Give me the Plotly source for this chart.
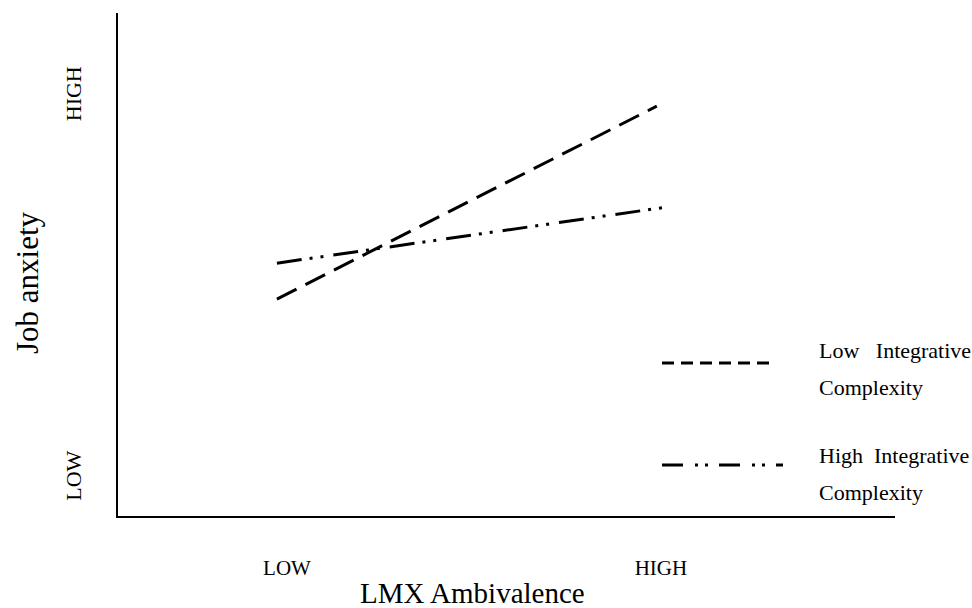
import plotly.graph_objects as go

# Data
x_tick_vals = [1, 2]
x_tick_text = ["LOW", "HIGH"]
y_tick_vals = [1, 2]
y_tick_text = ["LOW", "HIGH"]
x_title = "LMX Ambivalence"
y_title = "Job anxiety"

series_names = ["Low Integrative Complexity", "High Integrative Complexity"]
low_ic_x = [0.973, 1.989]
low_ic_y = [1.471, 1.976]
high_ic_x = [0.973, 2.016]
high_ic_y = [1.565, 1.712]

FONT = "Liberation Serif, Times New Roman, serif"

# plot-area pixel geometry (used to place the manual legend in paper coords)
PL, PR, PT, PB = 118, 895, 13, 516


def px(xp):
    return (xp - PL) / (PR - PL)


def py(yp):
    return (PB - yp) / (PB - PT)


fig = go.Figure()
fig.add_trace(go.Scatter(
    x=low_ic_x, y=low_ic_y, mode="lines", name=series_names[0],
    line=dict(color="black", width=3, dash="22px,10px"),
    showlegend=False,
))
fig.add_trace(go.Scatter(
    x=high_ic_x, y=high_ic_y, mode="lines", name=series_names[1],
    line=dict(color="black", width=3, dash="25px,8px,3px,8px,3px,10px"),
    showlegend=False,
))

# Manual legend (line samples + two-line labels)
legend_items = [
    dict(y_line=363, dash="12px,7px", x1=773,
         text1="Low\u00a0\u00a0\u00a0Integrative", y1=350, text2="Complexity", y2=387),
    dict(y_line=465, dash="21px,12px,3px,7px,3px,11px", x1=783,
         text1="High\u00a0\u00a0Integrative", y1=455, text2="Complexity", y2=492),
]
for it in legend_items:
    fig.add_shape(type="line", xref="paper", yref="paper",
                  x0=px(662), x1=px(it["x1"]),
                  y0=py(it["y_line"]), y1=py(it["y_line"]),
                  line=dict(color="black", width=3, dash=it["dash"]))
    for t, yy in ((it["text1"], it["y1"]), (it["text2"], it["y2"])):
        fig.add_annotation(text=t, xref="paper", yref="paper",
                           x=px(817), y=py(yy),
                           xanchor="left", yanchor="middle", showarrow=False,
                           font=dict(family=FONT, size=22, color="black"))

# Axis titles
fig.add_annotation(text=x_title, xref="paper", yref="paper", x=px(472), y=py(593),
                   xanchor="center", yanchor="middle", showarrow=False,
                   font=dict(family=FONT, size=29, color="black"))
fig.add_annotation(text=y_title, xref="paper", yref="paper", x=px(27), y=py(283),
                   xanchor="center", yanchor="middle", showarrow=False, textangle=-90,
                   font=dict(family=FONT, size=31, color="black"))

fig.update_layout(
    width=972, height=608,
    margin=dict(l=PL, r=972 - PR, t=PT, b=608 - PB),
    paper_bgcolor="white", plot_bgcolor="white",
    font=dict(family=FONT, color="black"),
    showlegend=False,
    xaxis=dict(
        range=[0.548, 2.626], showgrid=False, zeroline=False,
        showline=True, linecolor="black", linewidth=2,
        tickvals=x_tick_vals, ticktext=x_tick_text, ticks="",
        tickfont=dict(family=FONT, size=21, color="black"),
        ticklabelstandoff=32,
        automargin=False,
        fixedrange=True,
    ),
    yaxis=dict(
        range=[0.903, 2.220], showgrid=False, zeroline=False,
        showline=True, linecolor="black", linewidth=2,
        tickvals=y_tick_vals, ticktext=y_tick_text, ticks="",
        tickangle=-90,
        tickfont=dict(family=FONT, size=22, color="black"),
        ticklabelstandoff=26,
        automargin=False,
        fixedrange=True,
    ),
)

fig.write_html(
    "out.html",
    config={"displayModeBar": False},
    post_script="document.body.style.margin='0';document.body.style.overflow='hidden';",
)
